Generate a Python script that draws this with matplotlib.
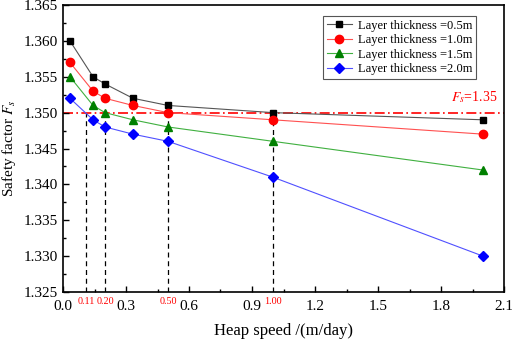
import matplotlib
matplotlib.use('Agg')
import matplotlib.pyplot as plt
from matplotlib.ticker import MultipleLocator

plt.rcParams['font.family'] = 'Liberation Serif'
plt.rcParams['mathtext.fontset'] = 'stix'

# Heap speed (m/day) and safety factor for each layer thickness
speed = [0.033, 0.143, 0.2, 0.333, 0.5, 1.0, 2.0]
fs_05 = [1.360, 1.355, 1.354, 1.352, 1.351, 1.350, 1.349]
fs_10 = [1.357, 1.353, 1.352, 1.351, 1.350, 1.349, 1.347]
fs_15 = [1.355, 1.351, 1.350, 1.349, 1.348, 1.346, 1.342]
fs_20 = [1.352, 1.349, 1.348, 1.347, 1.346, 1.341, 1.330]
labels = ['Layer thickness =0.5m', 'Layer thickness =1.0m',
          'Layer thickness =1.5m', 'Layer thickness =2.0m']

# Critical speeds where each curve crosses Fs = 1.35
crit_speed = [0.11, 0.20, 0.50, 1.00]
crit_text = ['0.11', '0.20', '0.50', '1.00']
fs_limit = 1.35

fig = plt.figure(figsize=(5.12, 3.42), dpi=100)
ax = fig.add_axes([63 / 512, 1 - 292 / 342, 441 / 512, 287 / 342])

series = [fs_05, fs_10, fs_15, fs_20]
colors = ['black', 'red', 'green', 'blue']
line_colors = ['#555555', '#ff5050', '#40b040', '#5050ff']
markers = ['s', 'o', '^', 'D']
sizes = [5, 6, 6, 5]
for y, c, lc, m, s, lab in zip(series, colors, line_colors, markers, sizes, labels):
    ax.plot(speed, y, color=lc, lw=0.8, marker=m, ms=s, mfc=c, mec=c, label=lab)

# Fs = 1.35 reference line
ax.axhline(fs_limit, color='red', lw=1.2, ls=(0, (6, 2, 1, 2)), zorder=1)
ax.text(2.07, fs_limit + 0.0011, r'$F_s$=1.35', color='red', fontsize=10,
        ha='right', va='bottom')

# Dashed drop lines with red labels
for xs, t in zip(crit_speed, crit_text):
    ax.plot([xs, xs], [1.325, fs_limit], color='black', lw=0.9, ls=(0, (4, 3)), zorder=1)
    ax.text(xs, 1.3243, t, color='red', fontsize=7.3, ha='center', va='top')

ax.set_xlim(0, 2.1)
ax.set_ylim(1.325, 1.365)
ax.xaxis.set_major_locator(MultipleLocator(0.3))
ax.xaxis.set_minor_locator(MultipleLocator(0.15))
ax.yaxis.set_major_locator(MultipleLocator(0.005))
ax.yaxis.set_minor_locator(MultipleLocator(0.0025))
ax.xaxis.set_major_formatter(plt.FuncFormatter(lambda v, p: f'{v:.1f}'))
ax.yaxis.set_major_formatter(plt.FuncFormatter(lambda v, p: f'{v:.3f}'))
ax.tick_params(which='both', direction='in', labelsize=11)
ax.tick_params(which='major', length=4, width=1)
ax.tick_params(which='minor', length=2, width=1)
ax.tick_params(axis='x', pad=6)
ax.tick_params(axis='y', pad=4)
for sp in ax.spines.values():
    sp.set_linewidth(1.2)

ax.set_xlabel('Heap speed /(m/day)', fontsize=12, labelpad=7)
ax.set_ylabel(r'Safety factor $F_s$', fontsize=11, labelpad=4)

leg = ax.legend(loc='upper right', bbox_to_anchor=(0.945, 0.975), fontsize=9,
                fancybox=False, edgecolor='#555555', framealpha=1,
                handlelength=2.0, handletextpad=0.5, borderpad=0.3,
                labelspacing=0.2, borderaxespad=0.3)
leg.get_frame().set_linewidth(0.8)

fig.savefig('out.png', dpi=100)
